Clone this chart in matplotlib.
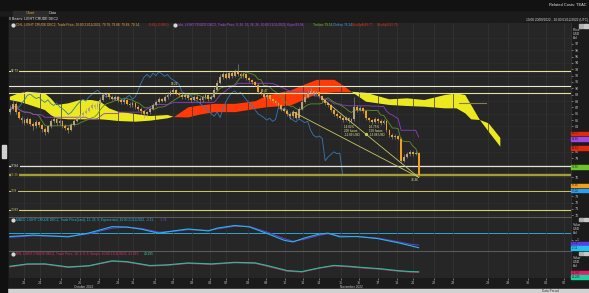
import numpy as np
import pandas as pd
import matplotlib
matplotlib.use('Agg')
import matplotlib.pyplot as plt
from matplotlib.patches import Rectangle
from matplotlib.lines import Line2D

# ---------------- data (4h bars, LIGHT CRUDE DEC2) ----------------
closes = [86.8, 87.6, 86.2, 85.4, 85.0, 84.6, 85.1, 84.4, 84.0, 84.7,
          84.2, 83.6, 83.2, 84.0, 84.8, 85.2, 84.5, 84.9, 84.1, 83.8,
          83.5, 84.2, 84.9, 85.3, 85.8, 86.1, 86.4, 86.9, 87.3, 87.0,
          87.6, 88.2, 88.9, 89.1, 88.7, 88.4, 88.6, 88.1, 87.8, 88.2,
          87.6, 87.3, 87.7, 87.1, 86.8, 86.4, 85.9, 86.2, 86.8, 87.4,
          87.9, 88.3, 88.0, 88.6, 89.0, 89.4, 89.7, 89.3, 89.0, 88.6,
          88.9, 88.5, 88.2, 88.7, 88.4, 88.1, 88.6, 88.9, 88.3, 88.7,
          89.8, 90.9, 91.8, 92.2, 91.7, 92.4, 92.0, 92.6, 92.3, 91.9,
          92.2, 91.6, 91.3, 91.0, 90.6, 89.4, 89.2, 88.6, 88.9, 88.3,
          88.0, 87.7, 87.3, 86.8, 86.5, 86.0, 85.6, 86.3, 85.4, 86.8,
          87.9, 88.7, 89.3, 89.6, 89.1, 89.4, 88.8, 88.2, 87.7, 87.3,
          86.6, 86.0, 85.7, 85.4, 85.0, 85.3, 84.8, 85.1, 87.0, 86.6,
          86.9, 86.4, 85.3, 85.0, 84.7, 85.2, 84.9, 84.6, 84.8, 83.4,
          82.6, 82.3, 82.5, 82.1, 78.6, 79.2, 79.6, 80.0, 79.7, 79.8,
          76.4]
highs = [87.3, 88.3, 87.8, 86.5, 85.7, 85.3, 85.5, 85.3, 84.7, 85.0,
         84.9, 84.4, 83.9, 84.3, 85.1, 85.6, 85.4, 85.2, 85.0, 84.4,
         84.0, 84.5, 85.2, 85.6, 86.1, 86.5, 86.9, 87.2, 87.7, 87.5,
         87.9, 88.6, 89.3, 89.5, 89.3, 88.9, 88.9, 88.8, 88.3, 88.5,
         88.4, 87.8, 88.0, 87.9, 87.3, 87.0, 86.6, 86.5, 87.1, 87.7,
         88.2, 88.7, 88.5, 88.9, 89.4, 89.8, 90.1, 89.9, 89.5, 89.2,
         89.2, 89.1, 88.7, 89.0, 88.9, 88.6, 88.9, 89.2, 89.1, 89.0,
         90.2, 91.3, 92.2, 92.6, 92.5, 92.8, 92.7, 93.0, 93.8, 92.6,
         92.5, 92.4, 91.8, 91.5, 91.2, 90.8, 89.7, 89.4, 89.2, 89.1,
         88.5, 88.2, 87.9, 87.5, 87.0, 86.7, 86.2, 86.6, 86.5, 87.1,
         88.3, 89.1, 89.7, 90.0, 89.8, 89.7, 89.6, 89.0, 88.4, 87.9,
         87.5, 86.8, 86.2, 85.9, 85.6, 85.6, 85.5, 85.4, 88.6, 87.3,
         87.2, 87.1, 86.6, 85.5, 85.2, 85.5, 85.4, 85.1, 85.1, 85.0,
         83.6, 82.9, 82.8, 82.7, 82.3, 79.6, 79.9, 80.3, 80.2, 80.1,
         80.0]
lows = [86.0, 86.6, 85.9, 85.1, 84.6, 84.2, 84.4, 84.0, 83.5, 83.8,
        83.9, 83.2, 82.6, 83.0, 83.8, 84.6, 84.2, 84.3, 83.8, 83.4,
        83.0, 83.3, 84.0, 84.7, 85.1, 85.6, 85.9, 86.2, 86.7, 86.7,
        86.8, 87.4, 88.0, 88.6, 88.4, 88.1, 88.2, 87.8, 87.5, 87.6,
        87.3, 87.0, 87.1, 86.8, 86.5, 86.0, 85.4, 85.7, 86.0, 86.6,
        87.2, 87.7, 87.8, 87.9, 88.4, 88.8, 89.2, 89.0, 88.7, 88.3,
        88.4, 88.2, 87.9, 88.0, 88.1, 87.8, 87.9, 88.4, 88.0, 88.1,
        88.5, 89.6, 90.7, 91.5, 91.4, 91.5, 91.7, 91.8, 92.0, 91.6,
        91.7, 91.3, 91.0, 90.7, 90.3, 89.1, 88.9, 88.3, 88.4, 88.0,
        87.7, 87.4, 87.0, 86.5, 86.2, 85.7, 85.2, 85.4, 85.1, 85.3,
        86.6, 87.7, 88.5, 89.1, 88.8, 88.9, 88.5, 87.9, 87.4, 87.0,
        86.3, 85.7, 85.4, 85.1, 84.7, 84.8, 84.5, 84.6, 84.9, 86.3,
        86.4, 86.1, 85.0, 84.7, 84.4, 84.5, 84.6, 84.3, 84.4, 83.1,
        82.3, 82.0, 82.1, 81.8, 78.2, 78.4, 79.0, 79.4, 79.4, 79.5,
        76.1]
opens = [86.3] + closes[:-1]

# Ichimoku cloud (bar index, span A, span B)
cloud_idx = [0, 3, 6, 12, 14, 16, 20, 24, 28, 31, 34, 37, 43, 48, 54, 56,
             61, 65, 70, 77, 84, 88, 96, 100, 105, 111, 114, 117,
             122, 130, 136, 142, 149, 153, 156, 158, 161, 164, 168]
span_a = [88.16, 87.90, 87.50, 86.59, 85.80, 85.28, 85.12, 85.12, 85.12, 85.12,
          85.01, 84.86, 84.75, 84.91, 85.28, 85.54,
          87.11, 87.38, 87.64, 87.64, 88.06, 88.95, 89.74, 90.53, 91.42, 91.42,
          90.53, 89.47,
          87.90, 87.38, 87.22, 87.11, 86.85, 86.85, 86.06, 85.12, 85.01, 83.18, 80.81]
span_b = [88.68, 89.21, 89.47, 89.21, 88.43, 87.38, 87.64, 88.16, 88.16, 87.90,
          86.85, 86.33, 85.96, 85.64, 85.80, 85.54,
          85.50, 85.96, 86.33, 86.33, 86.85, 87.11, 87.38, 88.16, 89.21, 89.47,
          89.47, 89.47,
          89.30, 88.27, 88.43, 88.16, 88.95, 89.21, 88.95, 87.38, 85.01, 84.49, 82.20]

# drawn horizontal levels
levels = [92.73, 90.41, 89.33, 77.84, 76.36, 73.9, 70.83]
level_labels = ['92.73', '', '', '77.84', '76.36', '73.9', '70.83']

# MACD panel
macd_idx = [0, 8, 20, 27, 35, 40, 45, 51, 56, 61, 68, 71, 77, 82, 88, 94,
            97, 101, 106, 109, 113, 119, 126, 133, 137, 140]
macd_line = [-0.50, -0.30, -0.55, 0.00, 0.92, 0.85, 0.55, -0.02, 0.30, 0.58,
             0.30, 0.70, 1.08, 0.88, -0.05, -1.05, -1.28, -0.70, -0.15, -0.02,
             -0.55, -0.50, -0.80, -1.40, -1.80, -2.11]
macd_signal = [-0.62, -0.38, -0.48, -0.12, 0.70, 0.86, 0.66, 0.12, 0.22, 0.48,
               0.38, 0.58, 0.98, 0.95, 0.15, -0.82, -1.18, -0.88, -0.32, -0.10,
               -0.42, -0.52, -0.72, -1.25, -1.60, -1.74]

# RSI panel
rsi_idx = [0, 6, 12, 20, 27, 35, 40, 48, 54, 61, 69, 77, 84, 88, 95, 100,
           106, 111, 116, 121, 127, 133, 137, 140]
rsi_line = [46.5, 50.2, 50.4, 45.6, 47.8, 54.8, 53.6, 47.8, 48.9, 51.7, 50.2,
            52.6, 51.8, 47.6, 40.2, 38.8, 44.6, 48.0, 46.6, 44.8, 43.0, 40.2,
            38.9, 38.6]
rsi_signal = [47.4, 50.8, 50.9, 46.4, 48.1, 55.4, 54.3, 48.5, 49.5, 52.3, 50.9,
              53.2, 52.4, 48.6, 41.0, 39.5, 45.0, 48.6, 47.4, 45.6, 43.7, 40.9,
              39.6, 39.2]

# x axis (one tick per trading day)
tick_idx = [4.8, 10.3, 17.5, 24, 30.5, 37, 42.1, 49.7, 55.8, 62.3, 68.5, 74,
            81.5, 87.7, 94.2, 100.3, 105.8, 113.4, 119.5, 126, 132.5, 138,
            145.2, 151.7, 163.7, 170.5, 177.4, 183.6, 189.7]
tick_labels = ['21', '24', '25', '26', '27', '28', '31', '01', '02', '03', '04',
               '07', '08', '09', '10', '11', '14', '15', '16', '17', '18', '21',
               '22', '23', '28', '29', '30', '01', '02']

# price-scale tick labels that stay visible (the others sit under value tags)
price_ticks = [70, 71, 72, 73, 76, 79, 80, 84, 85, 86, 87, 88, 89, 90, 91,
               92, 93, 94, 95, 96, 97]

# trend lines drawn on the chart
trend_x = [[97, 140], [107, 140]]
trend_y = [[86.3, 76.0], [88.4, 76.0]]

# ---------------- figure ----------------
W, H = 589, 293
BG = '#262626'
fig = plt.figure(figsize=(W / 100, H / 100), dpi=100, facecolor='#1b1b1b')


def box(x0, y0, x1, y1):
    return [x0 / W, 1 - y1 / H, (x1 - x0) / W, (y1 - y0) / H]


def fx(px):
    return px / W


def fy(py):
    return 1 - py / H


FONT = ['Liberation Sans', 'DejaVu Sans']

# window chrome
fig.patches.append(Rectangle((0, fy(10)), 1, 10 / H, transform=fig.transFigure,
                             color='#121212', zorder=0))
fig.patches.append(Rectangle((fx(13), fy(17)), 35 / W, 6 / H, transform=fig.transFigure,
                             color='#2c2c2c', zorder=0))
fig.patches.append(Rectangle((0, 0), 1, 4 / H, transform=fig.transFigure,
                             color='#d2d2d2', zorder=0))
fig.patches.append(Rectangle((0, 0), 7 / W, fy(17), transform=fig.transFigure,
                             color='#101010', zorder=0))
fig.patches.append(Rectangle((fx(2), fy(158)), 4 / W, 13 / H, transform=fig.transFigure,
                             color='#cfcfcf', zorder=1))
fig.text(fx(587), fy(5), 'Related Costs: TEAC', fontsize=2.9, color='#e6e6e6',
         ha='right', va='center', family=FONT)
fig.text(fx(26), fy(13.5), 'Chart', fontsize=2.8, color='#e09a3a', va='center', family=FONT)
fig.text(fx(49), fy(13.5), 'Data', fontsize=2.8, color='#d8d8d8', va='center', family=FONT)
fig.text(fx(9), fy(19.5), '0 Beans: LIGHT CRUDE DEC2', fontsize=2.5, color='#e6e6e6',
         va='center', family=FONT)
fig.text(fx(588), fy(19.5), '10:00 20/09/2022 - 10:00 01/12/2022 (UTC)', fontsize=2.3,
         color='#d8d8d8', ha='right', va='center', family=FONT)
fig.text(fx(542), fy(291), 'Data Period', fontsize=2.3, color='#333333', va='center',
         family=FONT)

ax = fig.add_axes(box(9, 23, 571, 217), facecolor=BG)
ax_macd = fig.add_axes(box(9, 217, 571, 251), facecolor=BG, sharex=ax)
ax_rsi = fig.add_axes(box(9, 251, 571, 278), facecolor=BG, sharex=ax)

for a in (ax, ax_macd, ax_rsi):
    for s in a.spines.values():
        s.set_visible(False)
    a.spines['right'].set_visible(True)
    a.spines['right'].set_color('#3c3c3c')
    a.spines['right'].set_linewidth(0.5)
    a.set_xticks(tick_idx)
    a.grid(axis='x', color='#353535', lw=0.5)
    a.yaxis.tick_right()
    a.tick_params(axis='y', labelsize=2.4, colors='#bdbdbd', length=1.5, width=0.4, pad=1)
ax.set_xlim(-0.3, 192.2)

# ---- main price panel ----
ax.set_ylim(69.74, 100.29)
ax.set_yticks(price_ticks)
for p in range(70, 100, 2):
    ax.axhline(p, color='#2f2f2f', lw=0.4, zorder=0)

cx = np.array(cloud_idx)
sa = np.array(span_a)
sb = np.array(span_b)
ax.fill_between(cx, sa, sb, where=sb >= sa, interpolate=True, color='#ecea1e', lw=0, zorder=1)
ax.fill_between(cx, sa, sb, where=sa > sb, interpolate=True, color='#ff3a08', lw=0, zorder=1)

hi = pd.Series(highs)
lo = pd.Series(lows)
tenkan = (hi.rolling(9, min_periods=1).max() + lo.rolling(9, min_periods=1).min()) / 2
kijun = (hi.rolling(26, min_periods=1).max() + lo.rolling(26, min_periods=1).min()) / 2
idx = np.arange(len(closes))
ax.plot(idx, tenkan, color='#5f8f2a', lw=0.6, zorder=2)
ax.plot(idx, kijun, color='#8e3fc8', lw=0.6, zorder=2)
ax.plot(idx[:-26], closes[26:], color='#3777b8', lw=0.6, zorder=2)
ax.plot([154, 163], [87.7, 87.7], color='#8a7a50', lw=0.8, zorder=2)

level_colors = ['#e6e29a', '#ecebd6', '#e6e29a', '#e4e4d4', '#a49c34', '#cfc760', '#d8d070']
level_widths = [0.8, 0.8, 0.8, 0.9, 1.7, 0.7, 0.8]
for p, lab, col, lw in zip(levels, level_labels, level_colors, level_widths):
    ax.axhline(p, color=col, lw=lw, zorder=2.5)
    if lab:
        ax.text(0.004, p, lab, transform=ax.get_yaxis_transform(), fontsize=2.3,
                color=col, va='center', ha='left', family=FONT, zorder=4,
                bbox=dict(boxstyle='square,pad=0.1', fc=BG, ec='none'))

o = np.array(opens)
c = np.array(closes)
up = c >= o
body = np.maximum(np.abs(c - o), 0.08)
ax.vlines(idx, lows, highs, color='#9a9a9a', lw=0.4, zorder=3)
ax.bar(idx[up], body[up], bottom=o[up], width=0.62, color='#b3a27a', lw=0, zorder=3.2)
ax.bar(idx[~up], body[~up], bottom=c[~up], width=0.62, color='#f5a01a', lw=0, zorder=3.2)

for tx, ty in zip(trend_x, trend_y):
    ax.plot(tx, ty, color='#c9c862', lw=0.6, zorder=3.5)
ax.plot([122], [82.76], marker='o', ms=1.4, color='#c9c862', zorder=3.6)
ax.text(114.5, 84.2, '-14.82%\n200 hours\n-12.89 USD', fontsize=2.2, color='#ecec9a',
        va='top', family=FONT, linespacing=1.0, zorder=4)
ax.text(123, 84.2, '-16.75%\n150 hours\n-13.88 USD', fontsize=2.2, color='#ecec9a',
        va='top', family=FONT, linespacing=1.0, zorder=4)
ax.text(138.5, 75.6, '76.36', fontsize=2.3, color='#ecec9a', ha='center', va='center',
        family=FONT, zorder=4)
ax.text(55, 90.5, '90.22', fontsize=2.2, color='#ecec9a', family=FONT, zorder=4)
ax.text(86, 89.5, '89.47', fontsize=2.2, color='#ecec9a', family=FONT, zorder=4)

ax.tick_params(axis='x', bottom=False, labelbottom=False)
fig.text(fx(573), fy(28), 'Price\nUSD\nbbl', fontsize=2.4, color='#d0d0d0', va='top',
         linespacing=1.0, family=FONT)

# ---- MACD panel ----
ax_macd.set_ylim(-2.58, 2.30)
ax_macd.set_yticks([-1])
ax_macd.axhline(0, color='#2aa6d6', lw=0.7, zorder=1)
ax_macd.plot(macd_idx, macd_signal, color='#5b3fd0', lw=0.8, zorder=2)
ax_macd.plot(macd_idx, macd_line, color='#2ab6e6', lw=0.8, zorder=2)
ax_macd.tick_params(axis='x', bottom=False, labelbottom=False)
fig.text(fx(573), fy(223), 'Value\nUSD\nbbl', fontsize=2.4, color='#d0d0d0', va='top',
         linespacing=1.0, family=FONT)

# ---- RSI panel ----
ax_rsi.set_ylim(30, 70)
ax_rsi.set_yticks([])
ax_rsi.plot(rsi_idx, rsi_line, color='#d8266e', lw=0.8, zorder=2)
ax_rsi.plot(rsi_idx, rsi_signal, color='#1fc49a', lw=0.8, zorder=2)
ax_rsi.set_xticks(tick_idx, tick_labels)
ax_rsi.tick_params(axis='x', labelsize=2.4, colors='#b8b8b8', length=1.5, width=0.4, pad=0.5)
fig.text(fx(573), fy(256), 'Value\nUSD\nbbl', fontsize=2.4, color='#d0d0d0', va='top',
         linespacing=1.0, family=FONT)
fig.text(fx(84), fy(287.5), 'October 2022', fontsize=2.3, color='#c8c8c8', ha='center',
         va='center', family=FONT)
fig.text(fx(351), fy(287.5), 'November 2022', fontsize=2.3, color='#c8c8c8', ha='center',
         va='center', family=FONT)

# panel separators
for py in (217, 251):
    fig.add_artist(Line2D([fx(9), fx(571)], [fy(py), fy(py)], color='#5a5a5a', lw=0.8,
                          transform=fig.transFigure))

# header legends
legend_rows = [
    (25, [(16, 'OHL, LIGHT CRUDE DEC2, Trade Price, 10:00 21/11/2022, 79.78, 79.88, 79.48, 79.14,', '#e8a33a'),
          (148, '-0.64 (-0.80%)', '#e03020'),
          (178, 'Ichi, LIGHT CRUDE DEC2, Trade Price, 9, 26, 52, 26, 26, 10:00 21/11/2022, Kijun 83.08,', '#b04ee8'),
          (313, 'Tenkan 79.56,', '#7cc42c'),
          (333, 'Chikou 76.14,', '#3aa0e8'),
          (352, 'SkuSpA 80.77,', '#e0301c'),
          (377, 'SkuSpB 82.79', '#e0301c')]),
    (220, [(16, 'MACD, LIGHT CRUDE DEC2, Trade Price(Last), 12, 26, 9, Exponential, 10:00 21/11/2022, -2.11,', '#2ab6e6'),
           (160, '-1.74', '#6a4ff0')]),
    (254, [(16, 'RSI, LIGHT CRUDE DEC2, Trade Price, 14, 9, 9, 9, Simple, 10:00 21/11/2022, 41.997,', '#e0306e'),
           (144, '44.295', '#2fd0a0')]),
]
for py, segs in legend_rows:
    fig.add_artist(Line2D([fx(13)], [fy(py)], marker='o', ms=2.0, color='#d8d8d8',
                          transform=fig.transFigure))
    for px, txt, col in segs:
        fig.text(fx(px), fy(py), txt, fontsize=2.3, color=col, va='center', family=FONT)
fig.add_artist(Line2D([fx(175)], [fy(25)], marker='o', ms=2.0, color='#d8d8d8',
                      transform=fig.transFigure))

# value tags on the right scale
tags = [(133.5, '82.73', '#e02a10'), (139, '81.88', '#a447e0'), (148, '80.81', '#e02a10'),
        (167, '79.56', '#6cc42a'), (185.5, '76.36', '#f2a01c'), (190.5, '77.02', '#2b9ef0'),
        (243.5, '-1.74', '#5b3fe0'), (248, '-2.11', '#22c2f0'),
        (272.5, '41.997', '#e0206a'), (277, '44.295', '#1fd0a0')]
for py, txt, col in tags:
    fig.patches.append(Rectangle((fx(571), fy(py + 1.8)), 18 / W, 3.6 / H,
                                 transform=fig.transFigure, color=col, zorder=5))
    fig.text(fx(572), fy(py), txt, fontsize=2.0, color='#202020', va='center',
             family=FONT, zorder=6)

# little panel icons
for py in (26, 219, 253):
    fig.patches.append(Rectangle((fx(579), fy(py + 1.5)), 3.5 / W, 3 / H,
                                 transform=fig.transFigure, color='#b0b0b0', zorder=5))
    fig.patches.append(Rectangle((fx(584), fy(py + 1.5)), 3.5 / W, 3 / H,
                                 transform=fig.transFigure, color='#c8c8c8', zorder=5))

fig.savefig('out.png', dpi=100, facecolor=fig.get_facecolor())
